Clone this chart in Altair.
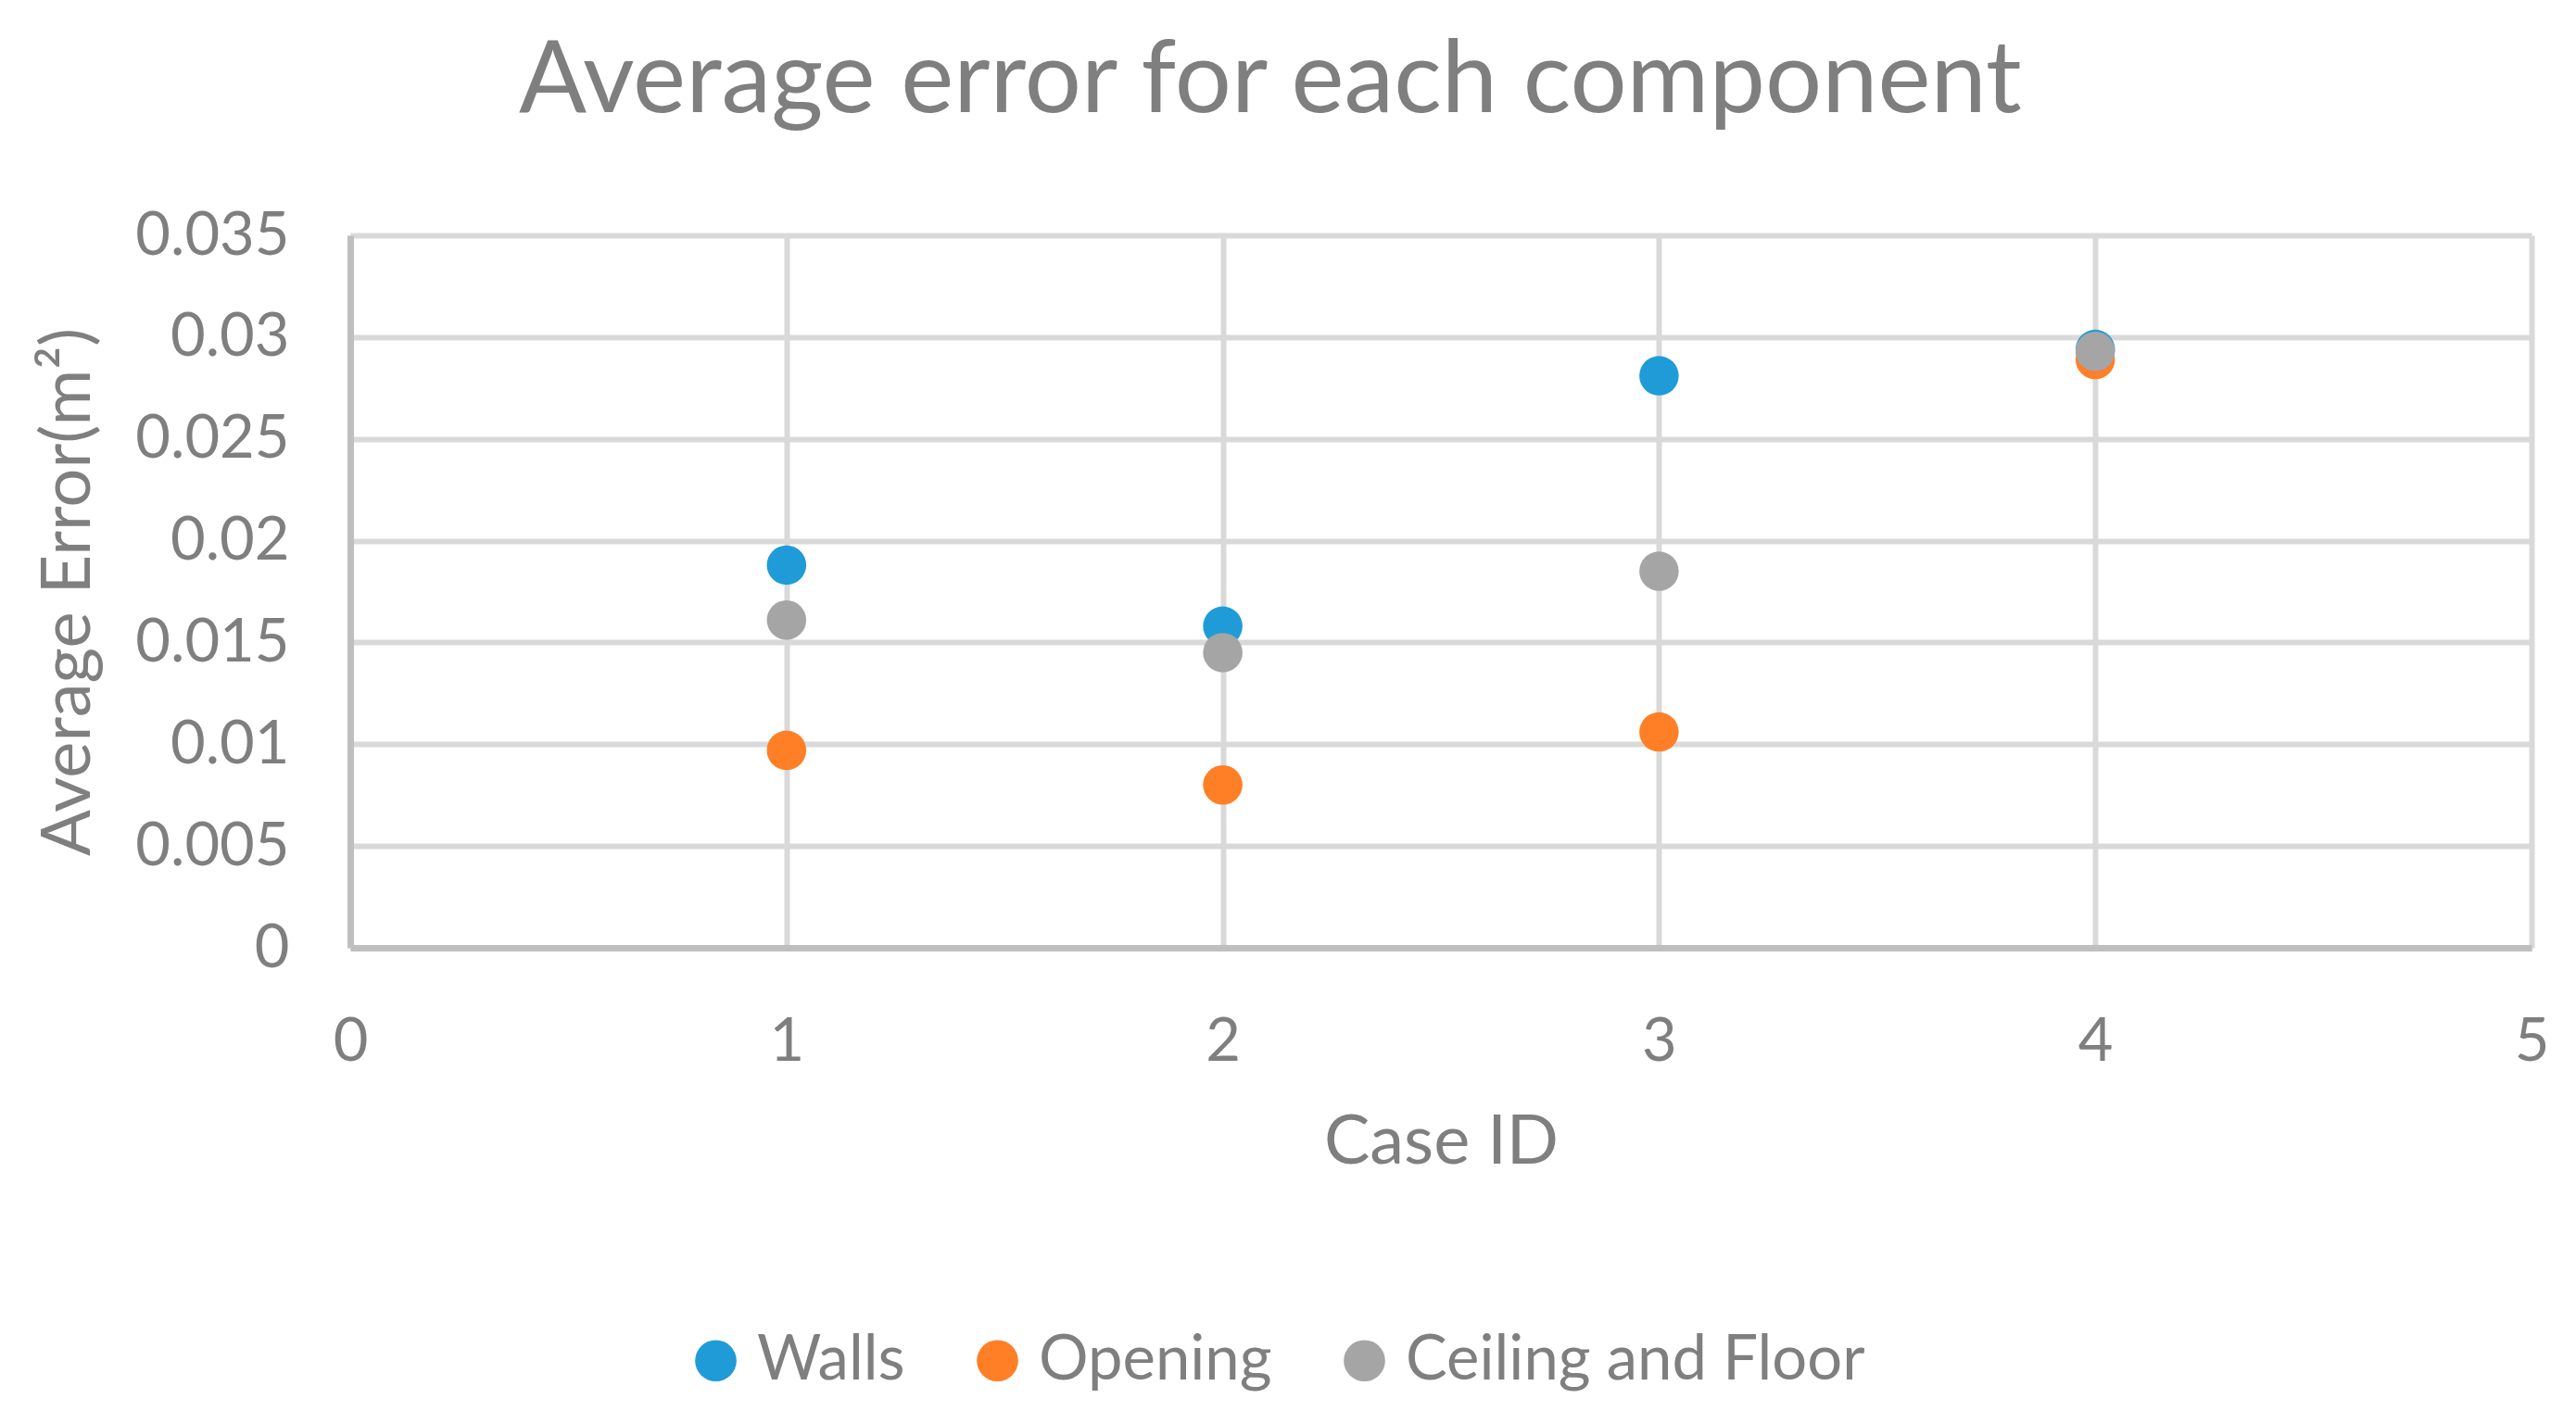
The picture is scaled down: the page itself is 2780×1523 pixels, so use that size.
import altair as alt
import pandas as pd

case_ids = [1, 2, 3, 4]
walls = [0.0188, 0.0158, 0.0281, 0.0294]
opening = [0.0097, 0.0080, 0.0106, 0.0289]
ceiling_floor = [0.0161, 0.0145, 0.0185, 0.0293]
series_names = ["Walls", "Opening", "Ceiling and Floor"]
series_colors = ["#1F9CD8", "#FF7F27", "#A5A5A5"]

rows = []
for name, vals in zip(series_names, [walls, opening, ceiling_floor]):
    for c, v in zip(case_ids, vals):
        rows.append({"Case ID": c, "Error": v, "Series": name})
df = pd.DataFrame(rows)

FONT = "Lato"
TXT = "#7F7F7F"

chart = alt.Chart(df).mark_point(filled=True, opacity=1, size=1810).encode(
    x=alt.X("Case ID:Q",
            scale=alt.Scale(domain=[0, 5], nice=False, zero=False),
            axis=alt.Axis(values=[0, 1, 2, 3, 4, 5], format="d", title="Case ID",
                          titlePadding=40, labelPadding=70, labelFlush=False)),
    y=alt.Y("Error:Q",
            scale=alt.Scale(domain=[0, 0.035], nice=False),
            axis=alt.Axis(values=[0, 0.005, 0.01, 0.015, 0.02, 0.025, 0.03, 0.035],
                          format="~g", title="Average Error(m²)",
                          labelPadding=66, titlePadding=66)),
    color=alt.Color("Series:N",
                    scale=alt.Scale(domain=series_names, range=series_colors),
                    legend=alt.Legend(title=None, orient="none", direction="horizontal",
                                      legendX=361, legendY=1181,
                                      symbolType="circle", symbolSize=2000,
                                      symbolStrokeWidth=0, labelFont=FONT,
                                      labelFontSize=67, labelColor=TXT,
                                      labelOffset=11, columnPadding=66,
                                      labelLimit=1000)),
).properties(
    width=2354,
    height=769,
    title=alt.TitleParams("Average error for each component", font=FONT,
                          fontSize=108, fontWeight="normal", color=TXT,
                          anchor="middle", frame="bounds", offset=78, dx=-23),
    padding={"left": 370, "top": 246, "right": 40, "bottom": 480},
    autosize=alt.AutoSizeParams(type="none"),
).configure_axis(
    labelFont=FONT, labelFontSize=65, labelColor=TXT,
    titleFont=FONT, titleFontSize=74, titleFontWeight="normal", titleColor=TXT,
    gridColor="#D9D9D9", gridWidth=6, domainColor="#BFBFBF", domainWidth=7,
    ticks=False,
).configure_view(stroke=None)

chart.save("out.html", embed_options={"renderer": "svg", "actions": False})
